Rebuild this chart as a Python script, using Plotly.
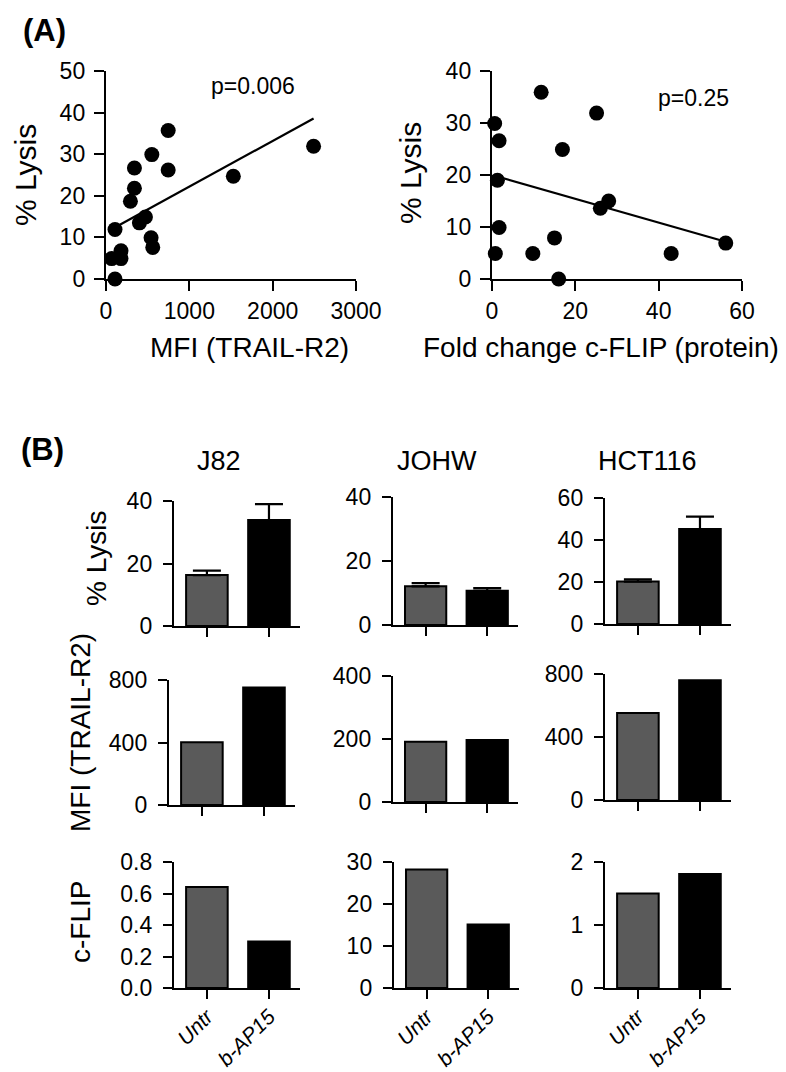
import plotly.graph_objects as go

W, H = 786, 1072
FONT = "Arial, Liberation Sans, Helvetica, sans-serif"

# ---------------- Panel A data ----------------
mfi_trail_r2 = [108, 108, 68, 180, 180, 293, 341, 341, 401, 473, 550, 541, 561, 746, 746, 1528, 2491]
lysis_vs_mfi = [0, 11.9, 4.9, 6.8, 4.9, 18.7, 26.7, 21.8, 13.5, 14.9, 29.9, 9.9, 7.6, 35.7, 26.2, 24.7, 31.9]
fit_mfi = [11.2, 0.0110]          # intercept, slope (linear regression shown)
p_mfi = "p=0.006"

cflip_fold = [0.64, 1.7, 1.3, 1.7, 0.8, 11.8, 25.1, 16.9, 26.0, 28.0, 15.0, 9.8, 16.0, 43.0, 56.1]
lysis_vs_cflip = [29.9, 26.6, 19.0, 9.9, 4.9, 35.9, 31.9, 24.9, 13.6, 15.0, 7.9, 4.9, 0.0, 4.9, 6.9]
fit_cflip = [20.0, -0.229]        # intercept, slope
p_cflip = "p=0.25"

mfi_ticks = [0, 1000, 2000, 3000]
lysis_ticks_a1 = [0, 10, 20, 30, 40, 50]
fold_ticks = [0, 20, 40, 60]
lysis_ticks_a2 = [0, 10, 20, 30, 40]

# ---------------- Panel B data ----------------
cell_lines = ["J82", "JOHW", "HCT116"]
treatments = ["Untr", "b-AP15"]
lysis_means = [[16.3, 33.9], [12.1, 10.7], [20.2, 45.2]]
lysis_sem = [[1.4, 5.1], [1.0, 0.8], [1.1, 5.9]]
mfi_values = [[402, 752], [191.5, 196.8], [553, 760]]
cflip_values = [[0.642, 0.296], [28.2, 15.1], [1.50, 1.81]]

lysis_tickvals = [[0, 20, 40], [0, 20, 40], [0, 20, 40, 60]]
mfi_tickvals = [[0, 400, 800], [0, 200, 400], [0, 400, 800]]
cflip_tickvals = [[0.0, 0.2, 0.4, 0.6, 0.8], [0, 10, 20, 30], [0, 1, 2]]
cflip_tickfmt = [".1f", "d", "d"]

bar_colors = ["#5a5a5a", "#000000"]

# ---------------- layout helpers (pixel boxes) ----------------
def xd(x0, x1):
    return [x0 / W, x1 / W]

def yd(top, bottom):
    return [1 - bottom / H, 1 - top / H]

fig = go.Figure()
layout = dict(
    width=W, height=H, margin=dict(l=0, r=0, t=0, b=0, autoexpand=False),
    paper_bgcolor="white", plot_bgcolor="white",
    showlegend=False, font=dict(family=FONT, color="black"),
)

axis_common = dict(
    showline=True, linecolor="black", linewidth=2.4, mirror=False,
    ticks="outside", tickcolor="black", tickwidth=2.4, showgrid=False,
    zeroline=False, fixedrange=True, automargin=False,
)

ax_count = [0]

def new_axes(xbox, ybox, xopts, yopts):
    ax_count[0] += 1
    i = ax_count[0]
    xn = "xaxis" if i == 1 else f"xaxis{i}"
    yn = "yaxis" if i == 1 else f"yaxis{i}"
    xr = "x" if i == 1 else f"x{i}"
    yr = "y" if i == 1 else f"y{i}"
    layout[xn] = dict(axis_common, domain=xd(*xbox), anchor=yr, **xopts)
    layout[yn] = dict(axis_common, domain=yd(*ybox), anchor=xr, **yopts)
    return xr, yr

# ---------------- Panel A: scatter plots ----------------
scatter_sets = [
    (mfi_trail_r2, lysis_vs_mfi, fit_mfi, mfi_ticks, lysis_ticks_a1, (98, 348), (63, 271)),
    (cflip_fold, lysis_vs_cflip, fit_cflip, fold_ticks, lysis_ticks_a2, (484, 734), (63, 271)),
]
for xs, ys, fit, xt, yt, xbox, ybox in scatter_sets:
    xr, yr = new_axes(
        xbox, ybox,
        dict(range=[xt[0], xt[-1]], tickvals=xt, ticklen=10,
             tickfont=dict(size=23, family=FONT)),
        dict(range=[yt[0], yt[-1]], tickvals=yt, ticklen=10,
             tickfont=dict(size=23, family=FONT), ticklabelstandoff=4),
    )
    fig.add_trace(go.Scatter(x=xs, y=ys, mode="markers", xaxis=xr, yaxis=yr,
                             marker=dict(size=15, color="black"), cliponaxis=False))
    x0, x1 = min(xs), max(xs)
    fig.add_trace(go.Scatter(x=[x0, x1], y=[fit[0] + fit[1] * x0, fit[0] + fit[1] * x1],
                             mode="lines", xaxis=xr, yaxis=yr,
                             line=dict(color="black", width=2.2), cliponaxis=False))

# ---------------- Panel B: bar grid ----------------
row_boxes = [
    [(166, 292, 493, 618), (385, 510, 489, 617), (597, 723, 490, 616)],
    [(161, 287, 672, 797), (385, 510, 668, 794), (597, 723, 666, 792)],
    [(166, 292, 854, 980), (386, 511, 854, 980), (597, 723, 854, 980)],
]
rows = [
    (lysis_means, lysis_sem, lysis_tickvals, ["d", "d", "d"]),
    (mfi_values, None, mfi_tickvals, ["d", "d", "d"]),
    (cflip_values, None, cflip_tickvals, cflip_tickfmt),
]
for r, (vals, errs, tvals, tfmt) in enumerate(rows):
    for c in range(3):
        x0, x1, top, bottom = row_boxes[r][c]
        last_row = (r == 2)
        xr, yr = new_axes(
            (x0, x1), (top, bottom),
            dict(type="category", categoryorder="array", categoryarray=treatments,
                 range=[-0.53, 1.5], ticklen=9, showticklabels=last_row,
                 tickangle=-45, tickfont=dict(size=21, family=FONT, style="italic"),
                 ticklabelstandoff=-3),
            dict(range=[tvals[c][0], tvals[c][-1]], tickvals=tvals[c], ticklen=9,
                 tickformat=tfmt[c], tickfont=dict(size=23, family=FONT),
                 ticklabelstandoff=6),
        )
        bar = dict(x=treatments, y=vals[c], xaxis=xr, yaxis=yr, width=0.67,
                   marker=dict(color=bar_colors, line=dict(color="black", width=2)))
        if errs is not None:
            bar["error_y"] = dict(type="data", symmetric=False, array=errs[c],
                                  arrayminus=[0, 0], color="black", thickness=2.2, width=14)
        fig.add_trace(go.Bar(**bar))

# ---------------- text annotations ----------------
def ann(text, x, y, size, angle=0, bold=False):
    return dict(text=f"<b>{text}</b>" if bold else text, x=x / W, y=1 - y / H,
                xref="paper", yref="paper", showarrow=False, textangle=angle,
                xanchor="center", yanchor="middle",
                font=dict(size=size, family=FONT, color="black"))

annotations = [
    ann("(A)", 36, 22, 31, bold=True),
    ann("(B)", 34, 441, 31, bold=True),
    ann(p_mfi, 245, 78, 23),
    ann(p_cflip, 685, 90, 23),
    ann("MFI (TRAIL-R2)", 241, 339, 28),
    ann("Fold change c-FLIP (protein)", 593, 339, 28),
    ann("% Lysis", 17, 167, 30, angle=-90),
    ann("% Lysis", 403, 165, 30, angle=-90),
    ann(cell_lines[0], 211, 453, 27),
    ann(cell_lines[1], 429, 453, 27),
    ann(cell_lines[2], 639, 453, 27),
    ann("% Lysis", 88, 551, 28, angle=-90),
    ann("MFI (TRAIL-R2)", 72, 725, 28, angle=-90),
    ann("c-FLIP", 72, 914, 28, angle=-90),
]
layout["annotations"] = annotations
fig.update_layout(**layout)
fig.write_html("out.html")
